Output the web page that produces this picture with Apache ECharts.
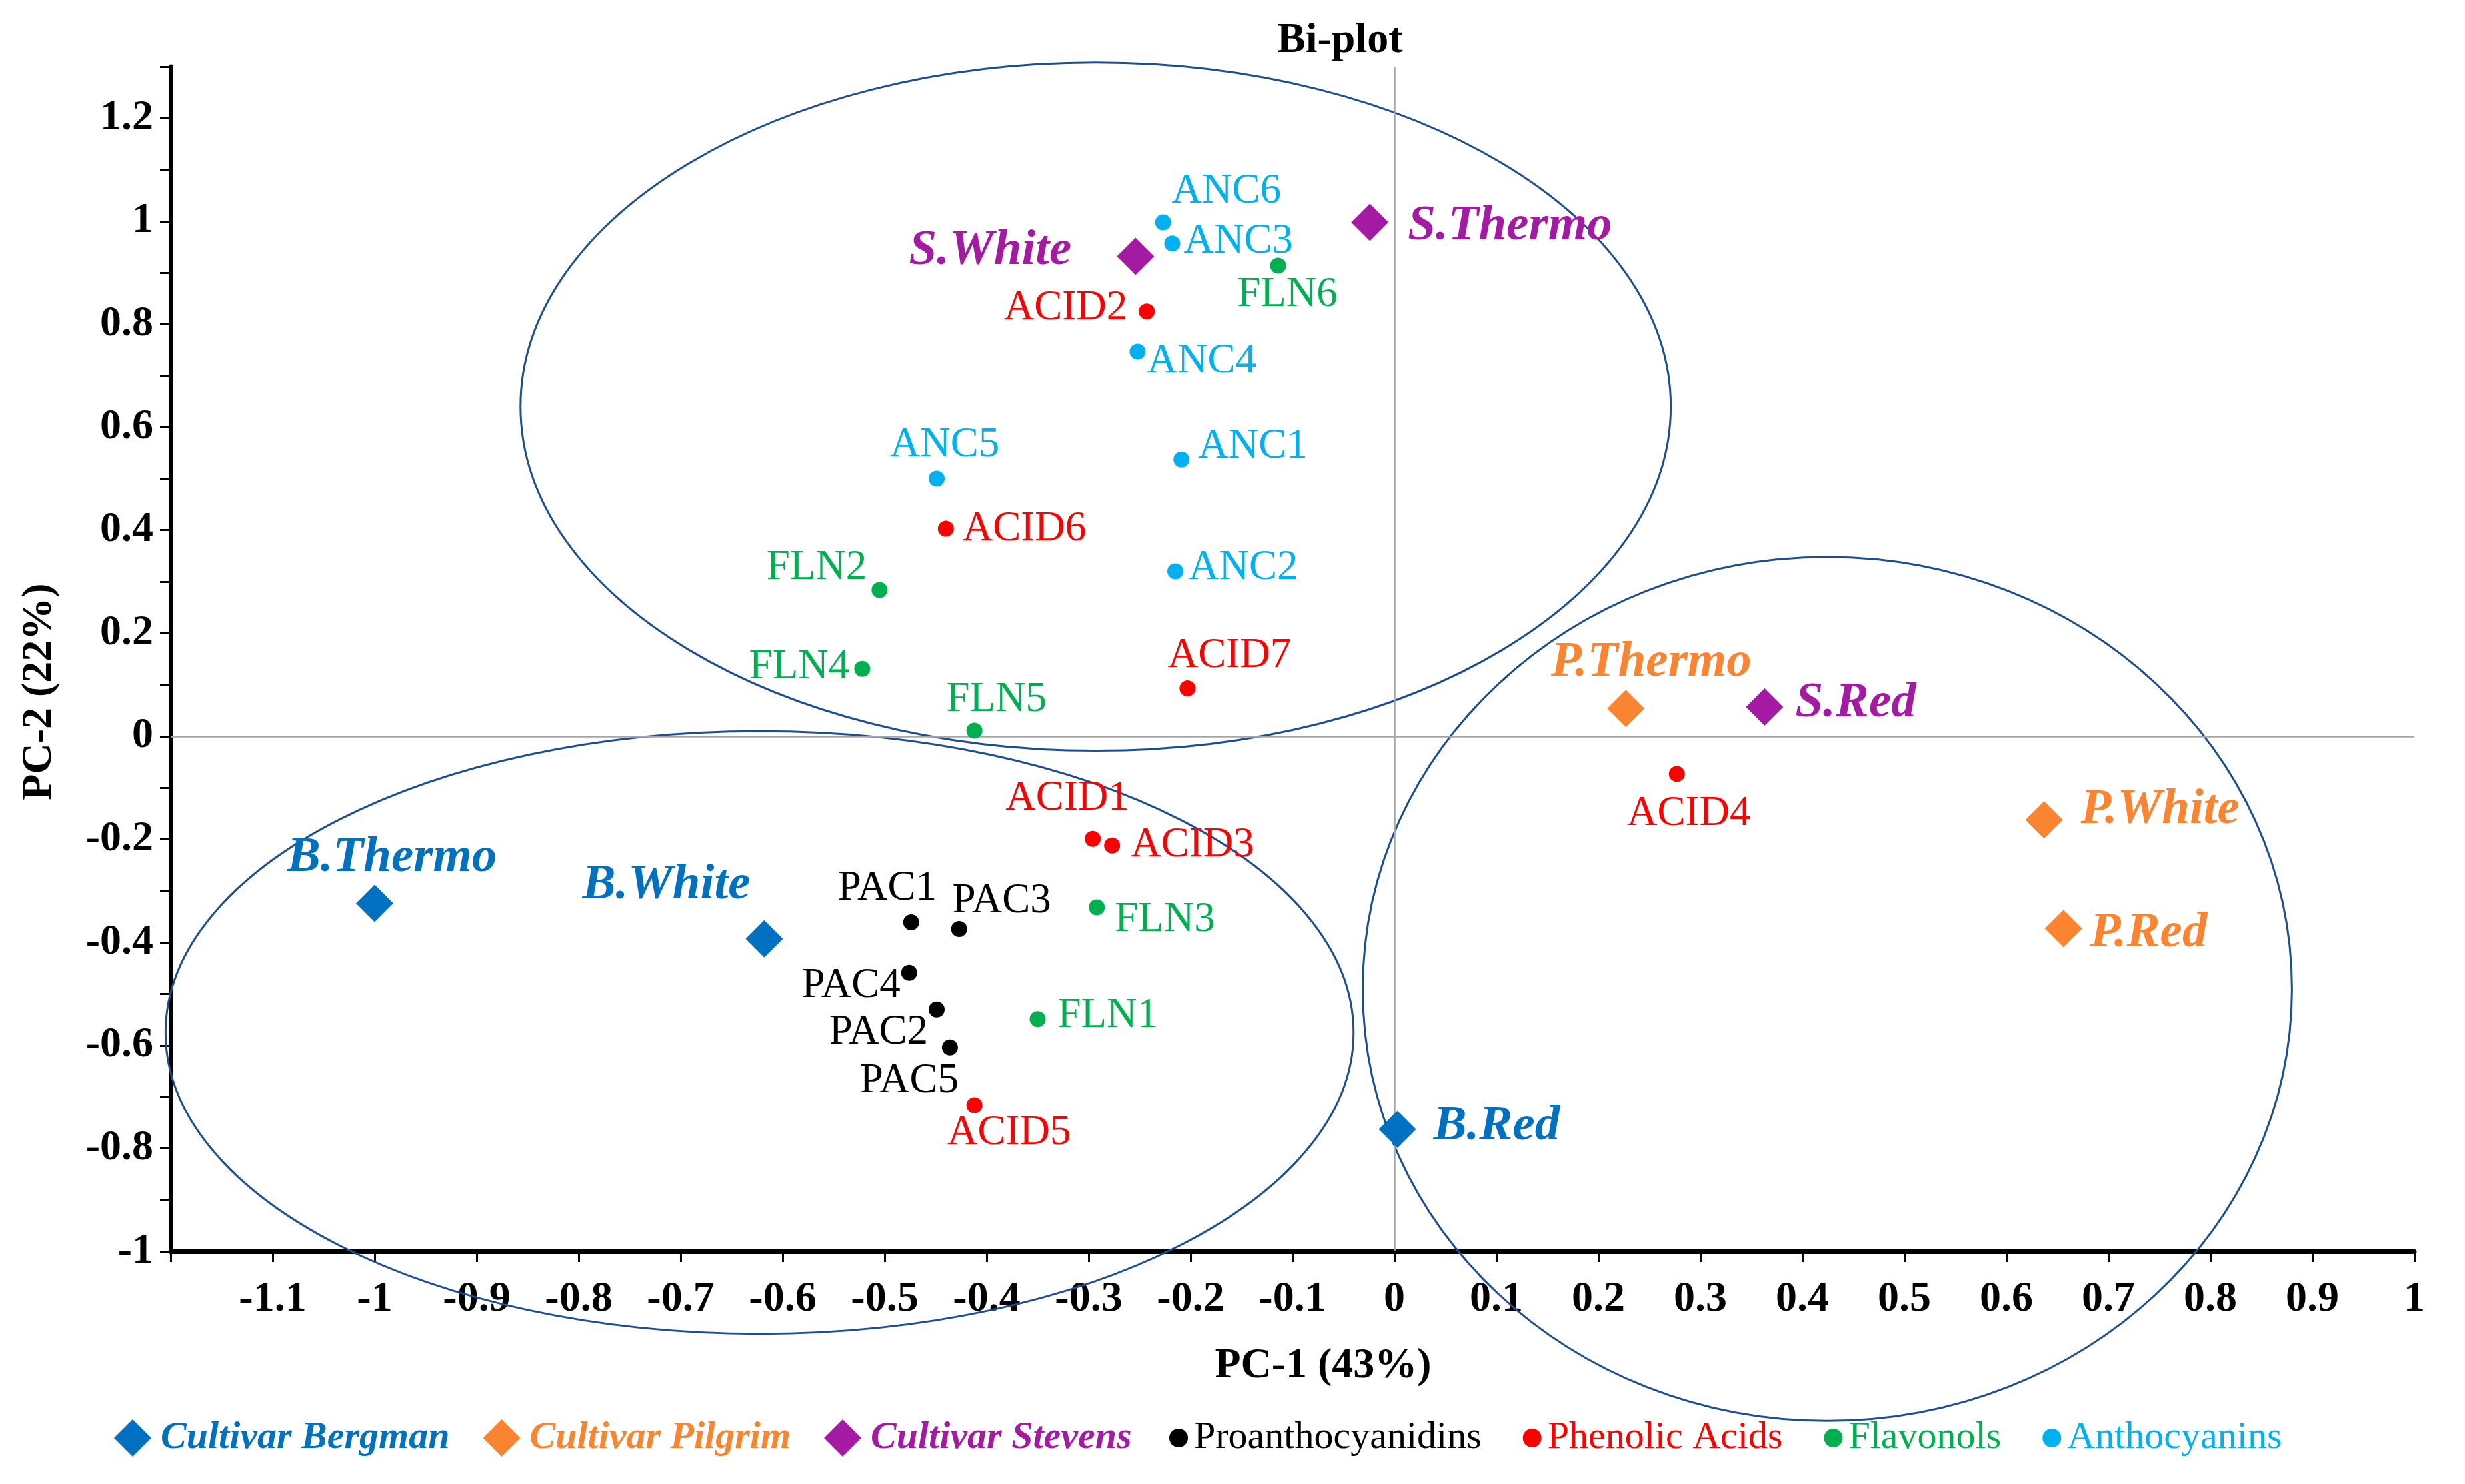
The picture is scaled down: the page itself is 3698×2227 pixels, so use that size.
<!DOCTYPE html>
<html>
<head>
<meta charset="utf-8">
<script src="https://cdn.jsdelivr.net/npm/echarts@6/dist/echarts.min.js"></script>
<style>
html,body{margin:0;padding:0;background:#fff;}
#chart{width:3698px;height:2227px;}
</style>
</head>
<body>
<div id="chart"></div>
<script>
// ---------- data ----------
const bergmanNames = ['B.Thermo', 'B.White', 'B.Red'];
const bergmanPC1 = [-1.0, -0.618, 0.003];
const bergmanPC2 = [-0.324, -0.393, -0.763];

const pilgrimNames = ['P.Thermo', 'P.White', 'P.Red'];
const pilgrimPC1 = [0.227, 0.637, 0.656];
const pilgrimPC2 = [0.054, -0.162, -0.373];

const stevensNames = ['S.White', 'S.Thermo', 'S.Red'];
const stevensPC1 = [-0.254, -0.024, 0.363];
const stevensPC2 = [0.932, 0.998, 0.057];

const pacNames = ['PAC1', 'PAC2', 'PAC3', 'PAC4', 'PAC5'];
const pacPC1 = [-0.474, -0.449, -0.427, -0.476, -0.436];
const pacPC2 = [-0.361, -0.530, -0.374, -0.459, -0.604];

const acidNames = ['ACID1', 'ACID2', 'ACID3', 'ACID4', 'ACID5', 'ACID6', 'ACID7'];
const acidPC1 = [-0.296, -0.243, -0.277, 0.277, -0.412, -0.440, -0.203];
const acidPC2 = [-0.199, 0.825, -0.212, -0.073, -0.716, 0.403, 0.093];

const flnNames = ['FLN1', 'FLN2', 'FLN3', 'FLN4', 'FLN5', 'FLN6'];
const flnPC1 = [-0.350, -0.505, -0.292, -0.522, -0.412, -0.114];
const flnPC2 = [-0.549, 0.284, -0.332, 0.131, 0.011, 0.914];

const ancNames = ['ANC1', 'ANC2', 'ANC3', 'ANC4', 'ANC5', 'ANC6'];
const ancPC1 = [-0.209, -0.215, -0.218, -0.252, -0.449, -0.227];
const ancPC2 = [0.537, 0.320, 0.957, 0.747, 0.500, 0.998];

// confidence ellipses (centre and semi-axes, in PC units)
const ellipseCX = [-0.293, -0.6225, 0.4245];
const ellipseCY = [0.640, -0.575, -0.4905];
const ellipseRX = [0.564, 0.5825, 0.4555];
const ellipseRY = [0.668, 0.585, 0.8385];

const legendCultivars = ['Cultivar Bergman', 'Cultivar Pilgrim', 'Cultivar Stevens'];
const legendCompounds = ['Proanthocyanidins', 'Phenolic Acids', 'Flavonols', 'Anthocyanins'];

// ---------- styling ----------
const FONT = '"Liberation Serif", "Times New Roman", serif';
const C_BERG = '#0070C0', C_PIL = '#FB8431', C_STE = '#A51AA2';
const C_PAC = '#000000', C_ACID = '#FF0000', C_FLN = '#00B050', C_ANC = '#00B0F0';
const C_ELL = '#1F4E8F';

// label placement: [align, dx, dy] in pixels relative to the marker centre
const labelPlacement = {
  'B.Thermo': ['center', 26, -68], 'B.White': ['center', -147, -80], 'B.Red': ['left', 54, -4],
  'P.Thermo': ['center', 38, -69], 'P.White': ['left', 55, -15], 'P.Red': ['left', 40, 7],
  'S.White': ['right', -96, -8], 'S.Thermo': ['left', 57, 6], 'S.Red': ['left', 46, -5],
  'PAC1': ['center', -36, -51], 'PAC2': ['right', -13, 35], 'PAC3': ['center', 64, -42],
  'PAC4': ['right', -13, 20], 'PAC5': ['center', -61, 51],
  'ACID1': ['center', -38, -60], 'ACID2': ['right', -29, -5], 'ACID3': ['left', 28, 0],
  'ACID4': ['center', 18, 60], 'ACID5': ['center', 52, 42], 'ACID6': ['left', 25, 1],
  'ACID7': ['center', 63, -49],
  'FLN1': ['left', 30, -5], 'FLN2': ['right', -19, -33], 'FLN3': ['left', 27, 19],
  'FLN4': ['right', -19, -2], 'FLN5': ['center', 33, -46], 'FLN6': ['center', 14, 44],
  'ANC1': ['left', 25, -19], 'ANC2': ['left', 20, -5], 'ANC3': ['left', 17, -3],
  'ANC4': ['left', 14, 15], 'ANC5': ['center', 12, -50], 'ANC6': ['center', 95, -46]
};

function buildData(names, xs, ys, textStyle) {
  return names.map(function (n, i) {
    const p = labelPlacement[n];
    return {
      name: n,
      value: [xs[i], ys[i]],
      label: Object.assign({
        show: true, position: 'inside', align: p[0], verticalAlign: 'middle',
        offset: [p[1], p[2]], formatter: n, textBorderWidth: 0, opacity: 1
      }, textStyle)
    };
  });
}

function cultivarSeries(name, color, names, xs, ys) {
  return {
    name: name, type: 'scatter', symbol: 'diamond', symbolSize: 56,
    itemStyle: { color: color, opacity: 1 }, z: 5,
    data: buildData(names, xs, ys, {
      color: color, fontFamily: FONT, fontSize: 75, fontWeight: 'bold', fontStyle: 'italic'
    })
  };
}
function compoundSeries(name, color, names, xs, ys) {
  return {
    name: name, type: 'scatter', symbol: 'circle', symbolSize: 24,
    itemStyle: { color: color, opacity: 1 }, z: 5,
    data: buildData(names, xs, ys, {
      color: color, fontFamily: FONT, fontSize: 63, fontWeight: 'normal'
    })
  };
}

const ellipseData = ellipseCX.map(function (c, i) {
  return [c, ellipseCY[i], ellipseRX[i], ellipseRY[i]];
});

const chart = echarts.init(document.getElementById('chart'));
const option = {
  backgroundColor: '#ffffff',
  animation: false,
  title: {
    text: 'Bi-plot', left: 1911, top: 24,
    textStyle: { fontFamily: FONT, fontSize: 64, fontWeight: 'bold', color: '#000' }
  },
  grid: { left: 256, right: 76, top: 100, bottom: 349, containLabel: false },
  xAxis: {
    type: 'value', min: -1.2, max: 1, interval: 0.1,
    name: 'PC-1 (43%)', nameLocation: 'middle', nameGap: 140,
    nameTextStyle: { fontFamily: FONT, fontSize: 64, fontWeight: 'bold', color: '#000', padding: [0, 0, 0, 92] },
    axisLine: { onZero: false, lineStyle: { color: '#000', width: 7 } },
    axisTick: { show: true, length: 16, lineStyle: { color: '#000', width: 3 } },
    axisLabel: {
      margin: 40, fontFamily: FONT, fontSize: 64, fontWeight: 'bold', color: '#000',
      showMinLabel: true,
      formatter: function (v) {
        if (Math.abs(v + 1.2) < 1e-6) return '';
        return String(+(+v).toFixed(1));
      }
    },
    splitLine: { show: false }
  },
  yAxis: {
    type: 'value', min: -1, max: 1.3, interval: 0.1,
    name: 'PC-2 (22%)', nameLocation: 'middle', nameGap: 165,
    nameTextStyle: { fontFamily: FONT, fontSize: 64, fontWeight: 'bold', color: '#000', padding: [0, 98, 0, 0] },
    axisLine: { onZero: false, lineStyle: { color: '#000', width: 7 } },
    axisTick: { show: true, length: 16, lineStyle: { color: '#000', width: 3 } },
    axisLabel: {
      margin: 26, fontFamily: FONT, fontSize: 64, fontWeight: 'bold', color: '#000',
      formatter: function (v) {
        const k = Math.round(v * 10);
        if (k % 2 !== 0 || k > 12) return '';
        return String(+(k / 10).toFixed(1));
      }
    },
    splitLine: { show: false }
  },
  legend: [
    {
      data: legendCultivars.map(function (n, i) {
        return { name: n, textStyle: { color: [C_BERG, C_PIL, C_STE][i] } };
      }),
      left: 166, top: 2124, orient: 'horizontal',
      icon: 'diamond', itemWidth: 56, itemHeight: 56, itemGap: 50,
      itemStyle: { opacity: 1 },
      textStyle: { fontFamily: FONT, fontSize: 58, fontWeight: 'bold', fontStyle: 'italic', padding: [0, 0, 0, 9] }
    },
    {
      data: legendCompounds.map(function (n, i) {
        return { name: n, textStyle: { color: [C_PAC, C_ACID, C_FLN, C_ANC][i] } };
      }),
      left: 1749, top: 2124, orient: 'horizontal',
      icon: 'circle', itemWidth: 28, itemHeight: 28, itemGap: 62,
      itemStyle: { opacity: 1 },
      textStyle: { fontFamily: FONT, fontSize: 58, fontWeight: 'normal', padding: [0, 0, 0, 4] }
    }
  ],
  series: [
    {
      name: 'zero-lines', type: 'line', data: [], silent: true, z: 1,
      markLine: {
        silent: true, symbol: ['none', 'none'], label: { show: false },
        lineStyle: { color: '#A6A6A6', width: 2.5, type: 'solid' },
        data: [{ xAxis: 0 }, { yAxis: 0 }],
        animation: false
      }
    },
    {
      name: 'ellipses', type: 'custom', clip: false, silent: true, z: 3,
      data: ellipseData,
      renderItem: function (params, api) {
        const c = api.coord([api.value(0), api.value(1)]);
        const s = api.size([api.value(2), api.value(3)]);
        return {
          type: 'ellipse',
          shape: { cx: c[0], cy: c[1], rx: s[0], ry: s[1] },
          style: { fill: 'none', stroke: C_ELL, lineWidth: 3 }
        };
      }
    },
    cultivarSeries('Cultivar Bergman', C_BERG, bergmanNames, bergmanPC1, bergmanPC2),
    cultivarSeries('Cultivar Pilgrim', C_PIL, pilgrimNames, pilgrimPC1, pilgrimPC2),
    cultivarSeries('Cultivar Stevens', C_STE, stevensNames, stevensPC1, stevensPC2),
    compoundSeries('Proanthocyanidins', C_PAC, pacNames, pacPC1, pacPC2),
    compoundSeries('Phenolic Acids', C_ACID, acidNames, acidPC1, acidPC2),
    compoundSeries('Flavonols', C_FLN, flnNames, flnPC1, flnPC2),
    compoundSeries('Anthocyanins', C_ANC, ancNames, ancPC1, ancPC2)
  ]
};
chart.setOption(option);
</script>
</body>
</html>
